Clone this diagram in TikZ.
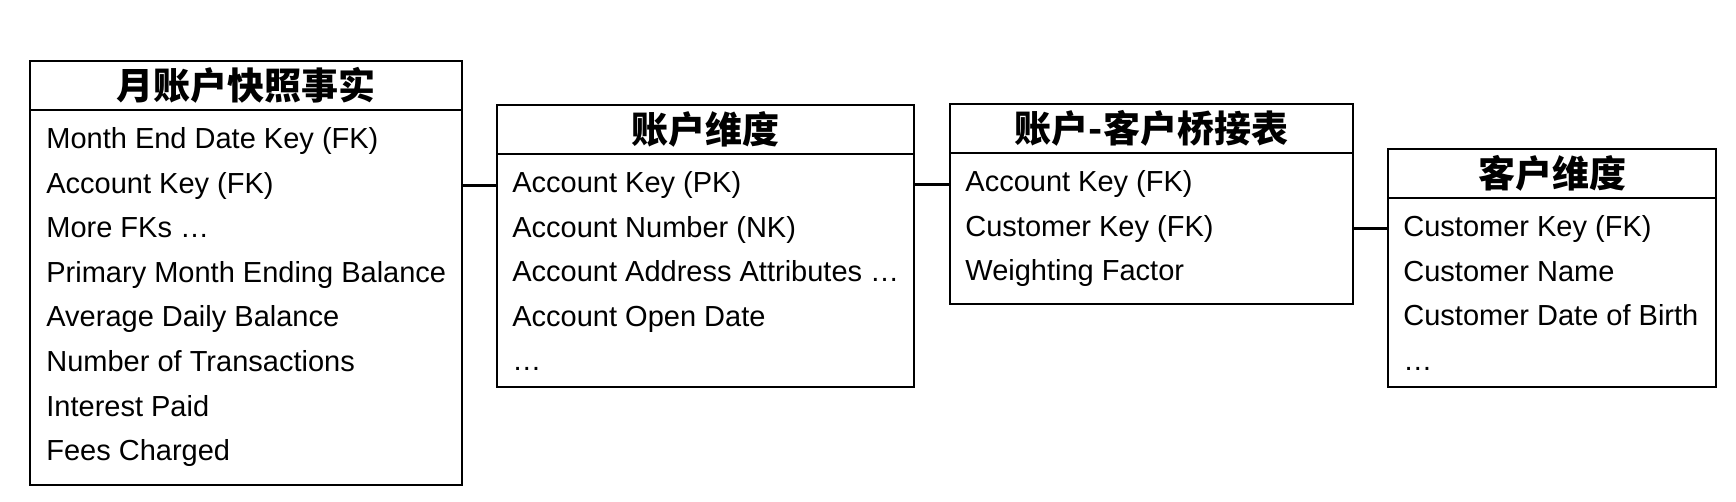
\documentclass[tikz,border=0pt]{standalone}
\usepackage{fontspec}
\setmainfont{Liberation Sans}
\newfontfamily\cjk{Noto Sans CJK SC}
\usetikzlibrary{positioning}

\begin{document}
\begin{tikzpicture}[
    x=0.5pt, y=-0.5pt, % 以像素為單位
    % 定義樣式
    tablehead/.style={
        draw,
        line width=1pt,
        anchor=north west,
        minimum height=24.5pt,
        inner sep=0pt,
        outer sep=0pt,
        font=\cjk\bfseries\fontsize{18.5}{20}\selectfont
    },
    tablebody/.style={
        draw,
        line width=1pt,
        anchor=north west,
        inner sep=0pt,
        outer sep=0pt
    },
    field/.style={
        anchor=base west,
        inner sep=0pt,
        text height=11pt,
        text depth=3pt,
        font=\fontsize{14.5}{16}\selectfont
    },
    link/.style={line width=1.5pt}
]
    \useasboundingbox (0,0) rectangle (1736,502);

    % --- 1. Fact table (Left) ---
    \node[tablehead, minimum width=216pt] (fact-head) at (30,61) {月账户快照事实};
    \node[tablebody, below=0pt of fact-head.south west, anchor=north west,
          minimum width=216pt, minimum height=187.5pt] (fact) {};
    \foreach \t [count=\i] in {Month End Date Key (FK), Account Key (FK), More FKs \ldots,
        Primary Month Ending Balance, Average Daily Balance, Number of Transactions,
        Interest Paid, Fees Charged}
        \node[field] (fact-\i) at ([shift={(16,{39+44.5*(\i-1)})}]fact.north west) {\t};

    % --- 2. Account dimension ---
    \node[tablehead, minimum width=208.5pt] (acct-head) at (497,105) {账户维度};
    \node[tablebody, below=0pt of acct-head.south west, anchor=north west,
          minimum width=208.5pt, minimum height=116.5pt] (acct) {};
    \foreach \t [count=\i] in {Account Key (PK), Account Number (NK),
        Account Address Attributes \ldots, Account Open Date, \ldots}
        \node[field] (acct-\i) at ([shift={(15,{39+44.5*(\i-1)})}]acct.north west) {\t};

    % --- 3. Bridge table ---
    \node[tablehead, minimum width=201.5pt] (bridge-head) at (950,104) {账户-客户桥接表};
    \node[tablebody, below=0pt of bridge-head.south west, anchor=north west,
          minimum width=201.5pt, minimum height=75.5pt] (bridge) {};
    \foreach \t [count=\i] in {Account Key (FK), Customer Key (FK), Weighting Factor}
        \node[field] (bridge-\i) at ([shift={(15,{39+44.5*(\i-1)})}]bridge.north west) {\t};

    % --- 4. Customer dimension (Right) ---
    \node[tablehead, minimum width=164pt] (cust-head) at (1388,149) {客户维度};
    \node[tablebody, below=0pt of cust-head.south west, anchor=north west,
          minimum width=164pt, minimum height=94.5pt] (cust) {};
    \foreach \t [count=\i] in {Customer Key (FK), Customer Name,
        Customer Date of Birth, \ldots}
        \node[field] (cust-\i) at ([shift={(15,{39+44.5*(\i-1)})}]cust.north west) {\t};

    % --- 5. Links (連線) ---
    \draw[link] (fact.east |- fact-2) -- (acct.west |- fact-2);
    \draw[link] (acct.east |- acct-1) -- (bridge.west |- acct-1);
    \draw[link] (bridge.east |- bridge-2) -- (cust.west |- bridge-2);

\end{tikzpicture}
\end{document}
